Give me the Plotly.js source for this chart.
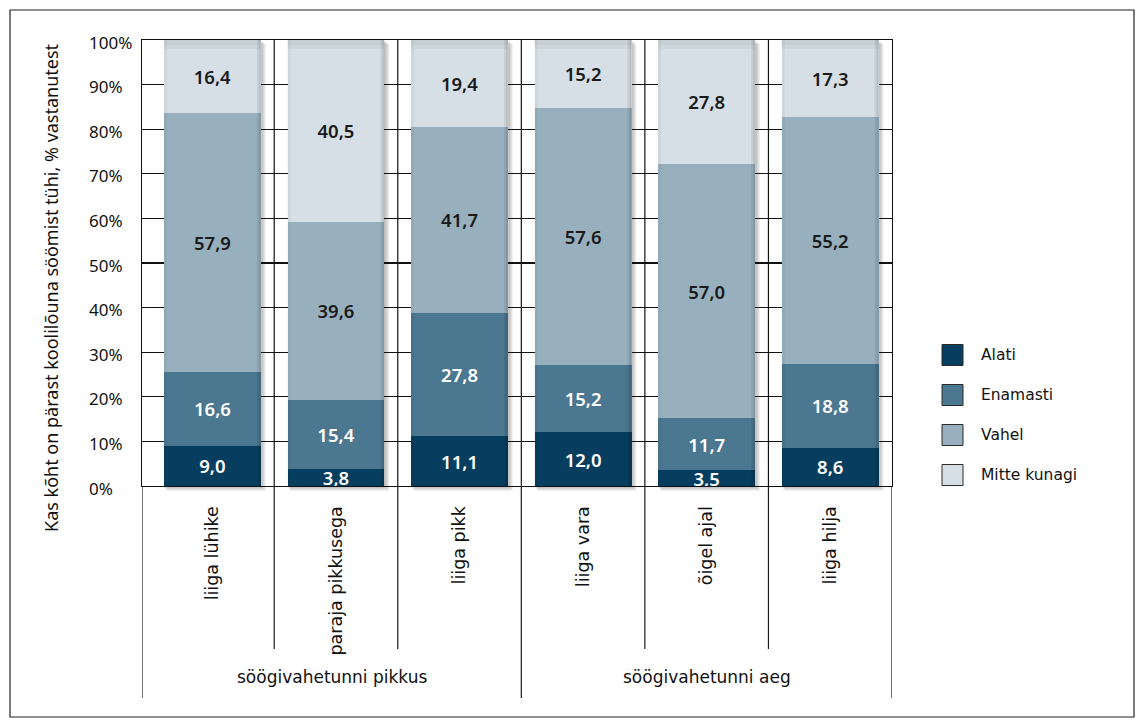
<!DOCTYPE html>
<html>
<head>
<meta charset="utf-8">
<script src="https://cdn.plot.ly/plotly-3.0.1.min.js"></script>
<style>
  html, body { margin: 0; padding: 0; background: #ffffff; }
  #chart { width: 1143px; height: 725px; }
</style>
</head>
<body>
<div id="chart"></div>
<script>
// Survey answers: is the stomach empty after eating school lunch (% of respondents)
const categories = ['liiga lühike', 'paraja pikkusega', 'liiga pikk', 'liiga vara', 'õigel ajal', 'liiga hilja'];
const groupNames = ['söögivahetunni pikkus', 'söögivahetunni aeg'];
const groupSizes = [3, 3];

const seriesNames = ['Alati', 'Enamasti', 'Vahel', 'Mitte kunagi'];
const alati    = [9.0, 3.8, 11.1, 12.0, 3.5, 8.6];
const enamasti = [16.6, 15.4, 27.8, 15.2, 11.7, 18.8];
const vahel    = [57.9, 39.6, 41.7, 57.6, 57.0, 55.2];
const mitte    = [16.4, 40.5, 19.4, 15.2, 27.8, 17.3];

const yTickVals = [0, 10, 20, 30, 40, 50, 60, 70, 80, 90, 100];
const yTitle = 'Kas kõht on pärast koolilõuna söömist tühi, % vastanutest';

const seriesValues = [alati, enamasti, vahel, mitte];
const seriesColors = ['#073e5f', '#4b7790', '#98b0be', '#d6dfe5'];
const seriesText   = ['#ffffff', '#ffffff', '#1a1a1a', '#1a1a1a'];

const FONT = 'DejaVu Sans, Verdana, sans-serif';
const FONT2 = 'Noto Sans, Open Sans, sans-serif';
const W = 1143, H = 725;
const M = { l: 142, r: 251, t: 40, b: 239 };
const plotW = W - M.l - M.r;   // 750
const plotH = H - M.t - M.b;   // 446
const BARGAP = 0.216;
const X_RANGE = [-0.57, categories.length - 0.5];
const unitPx = plotW / (X_RANGE[1] - X_RANGE[0]);
const fmt = v => v.toFixed(1).replace('.', ',');

// pixel -> paper helpers for decorations outside the plot area
const px2x = px => (px - M.l) / plotW;
const py2y = py => (M.t + plotH - py) / plotH;

const traces = seriesValues.map((vals, s) => ({
  type: 'bar',
  name: seriesNames[s],
  x: categories,
  y: vals,
  text: vals.map(fmt),
  textposition: 'inside',
  insidetextanchor: 'middle',
  textangle: 0,
  textfont: { family: FONT2, size: 18.5, color: seriesText[s], weight: 600 },
  marker: { color: seriesColors[s], line: { width: 0 } },
  showlegend: false,
  hoverinfo: 'skip'
}));

const shapes = [];
const annotations = [];

const halfBar = (1 - BARGAP) * unitPx / 2;
categories.forEach((c, i) => {
  // soft drop shadow to the right of / under each column
  for (let k = 1; k <= 4; k++) {
    shapes.push({
      type: 'rect', layer: 'between',
      xref: 'x', xsizemode: 'pixel', xanchor: i,
      x0: -halfBar + k - 1, x1: halfBar + k + 1,
      yref: 'paper', ysizemode: 'pixel', yanchor: 0,
      y0: -k - 1, y1: plotH - k,
      fillcolor: 'rgba(0,0,0,0.06)', line: { width: 0 }
    });
  }
  // gentle shading on the column edges and top
  const edges = [
    [halfBar - 4, halfBar, 0, plotH, 'rgba(0,0,0,0.07)'],
    [halfBar - 2, halfBar, 0, plotH, 'rgba(0,0,0,0.07)'],
    [-halfBar, -halfBar + 3, 0, plotH, 'rgba(0,0,0,0.04)'],
    [-halfBar, halfBar, plotH - 9, plotH, 'rgba(0,0,0,0.035)'],
    [-halfBar, halfBar, plotH - 5, plotH, 'rgba(0,0,0,0.035)']
  ];
  edges.forEach(e => shapes.push({
    type: 'rect', layer: 'above',
    xref: 'x', xsizemode: 'pixel', xanchor: i, x0: e[0], x1: e[1],
    yref: 'paper', ysizemode: 'pixel', yanchor: 0, y0: e[2], y1: e[3],
    fillcolor: e[4], line: { width: 0 }
  }));
});

// vertical grid lines between categories
for (let b = 0; b < categories.length - 1; b++) {
  shapes.push({
    type: 'line', layer: 'below', xref: 'x', yref: 'paper',
    x0: b + 0.5, x1: b + 0.5, y0: 0, y1: 1,
    line: { color: '#111111', width: 1.2 }
  });
}

// category separators below the axis; group boundaries run deeper
const groupEdges = [0];
groupSizes.forEach(n => groupEdges.push(groupEdges[groupEdges.length - 1] + n));
const edgeX = b => (b === 0 ? X_RANGE[0] : b - 0.5);
for (let b = 0; b <= categories.length; b++) {
  const isGroupEdge = groupEdges.includes(b);
  shapes.push({
    type: 'line', xref: 'x', yref: 'paper',
    x0: edgeX(b), x1: edgeX(b),
    y0: 0, y1: isGroupEdge ? py2y(698) : py2y(649),
    line: { color: '#1a1a1a', width: 1.2 }
  });
}

// group labels
groupNames.forEach((g, j) => {
  const mid = (edgeX(groupEdges[j]) + edgeX(groupEdges[j + 1])) / 2;
  annotations.push({
    xref: 'x', yref: 'paper', x: mid, y: py2y(677),
    text: g, showarrow: false, xanchor: 'center', yanchor: 'middle',
    font: { family: FONT, size: 17, color: '#111111' }
  });
});

// y tick labels, left aligned
yTickVals.forEach(v => {
  annotations.push({
    xref: 'paper', yref: 'y', x: px2x(87), y: v, yshift: -2,
    text: v + '%', showarrow: false, xanchor: 'left', yanchor: 'middle',
    font: { family: FONT2, size: 17, color: '#111111' }
  });
});

// y axis title
annotations.push({
  xref: 'paper', yref: 'paper', x: px2x(51), y: py2y(288),
  text: yTitle, textangle: -90, showarrow: false,
  xanchor: 'center', yanchor: 'middle',
  font: { family: FONT2, size: 18, color: '#111111' }
});

// legend: swatches and names
seriesNames.forEach((n, s) => {
  const cy = 355 + s * 40;
  shapes.push({
    type: 'rect', xref: 'paper', yref: 'paper',
    x0: px2x(942), x1: px2x(963), y0: py2y(cy + 10.5), y1: py2y(cy - 10.5),
    fillcolor: seriesColors[s], line: { color: '#2a2a2a', width: 1 }
  });
  annotations.push({
    xref: 'paper', yref: 'paper', x: px2x(979), y: py2y(cy),
    text: n, showarrow: false, xanchor: 'left', yanchor: 'middle',
    font: { family: FONT, size: 15.5, color: '#111111' }
  });
});

// outer frame
shapes.push({
  type: 'rect', xref: 'paper', yref: 'paper',
  x0: px2x(10), x1: px2x(1134), y0: py2y(717), y1: py2y(10),
  fillcolor: 'rgba(0,0,0,0)', line: { color: '#222222', width: 1.2 }
});

const layout = {
  width: W, height: H,
  margin: M,
  paper_bgcolor: '#ffffff',
  plot_bgcolor: '#ffffff',
  barmode: 'stack',
  barnorm: 'percent',
  bargap: BARGAP,
  uniformtext: { mode: 'show', minsize: 18.5 },
  showlegend: false,
  xaxis: {
    type: 'category',
    range: X_RANGE,
    showgrid: false,
    showline: true, linecolor: '#111111', linewidth: 1.2, mirror: true,
    ticks: '',
    tickangle: -90,
    ticklabelstandoff: 12,
    tickfont: { family: FONT, size: 17.5, color: '#111111' },
    fixedrange: true
  },
  yaxis: {
    range: [0, 100],
    tickvals: yTickVals,
    showticklabels: false,
    showgrid: true, gridcolor: '#111111', gridwidth: 1.2,
    zeroline: false,
    showline: true, linecolor: '#111111', linewidth: 1.2, mirror: true,
    ticks: '',
    fixedrange: true
  },
  shapes: shapes,
  annotations: annotations
};

Plotly.newPlot('chart', traces, layout, { displayModeBar: false, staticPlot: true });
</script>
</body>
</html>
